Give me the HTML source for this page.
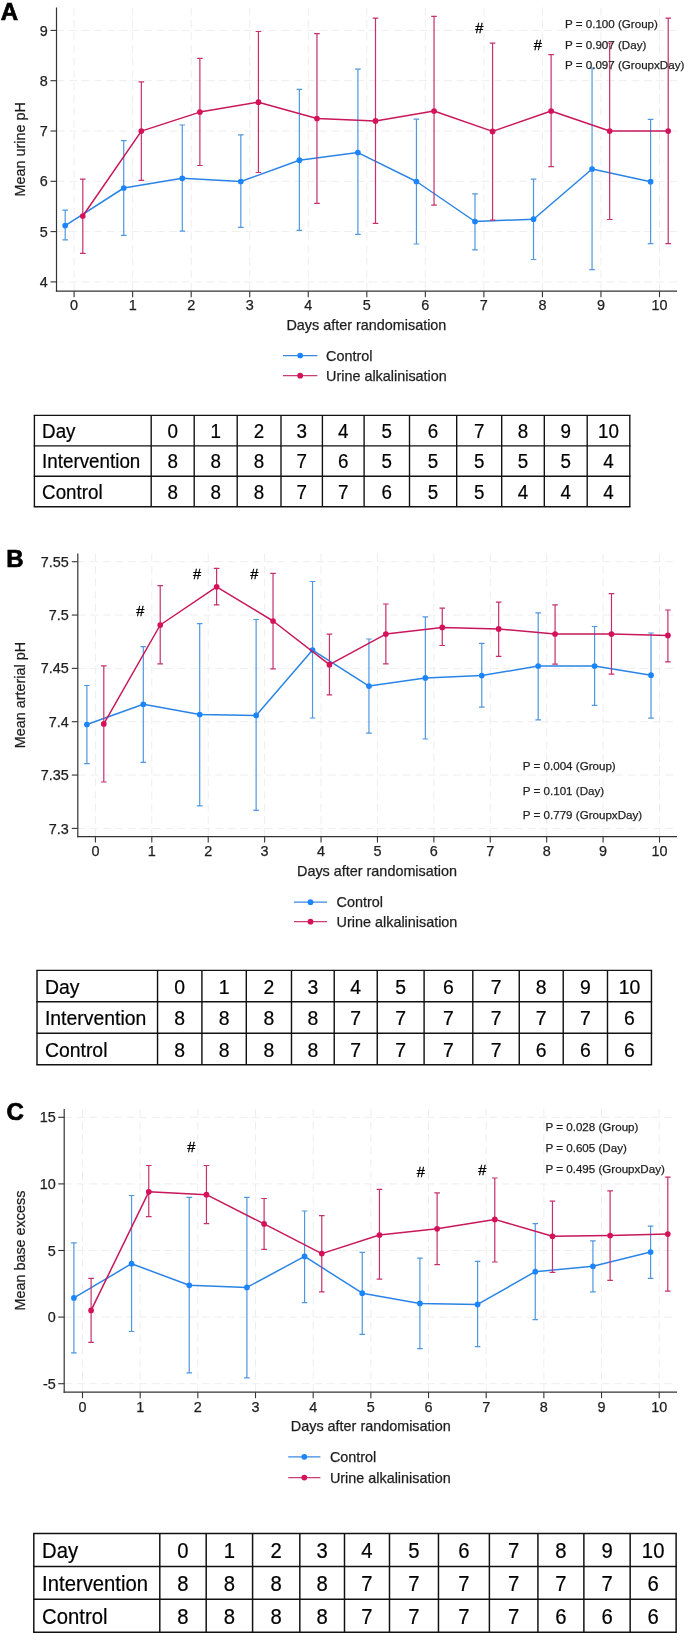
<!DOCTYPE html>
<html><head><meta charset="utf-8"><style>
html,body{margin:0;padding:0;background:#fff;}
body{width:685px;height:1633px;overflow:hidden;}
svg{display:block;font-family:"Liberation Sans", sans-serif;will-change:transform;}
svg text{fill:#1e1e1e;stroke:#1e1e1e;stroke-width:0.25px;}
svg text.tb{fill:#000;stroke:#000;stroke-width:0.2px;}
</style></head><body>
<svg width="685" height="1633" viewBox="0 0 685 1633">
<rect width="685" height="1633" fill="#fff"/>
<line x1="56.5" y1="281.9" x2="677" y2="281.9" stroke="#eeeeee" stroke-width="1" stroke-dasharray="8 4.5"/>
<line x1="56.5" y1="231.6" x2="677" y2="231.6" stroke="#eeeeee" stroke-width="1" stroke-dasharray="8 4.5"/>
<line x1="56.5" y1="181.3" x2="677" y2="181.3" stroke="#eeeeee" stroke-width="1" stroke-dasharray="8 4.5"/>
<line x1="56.5" y1="131" x2="677" y2="131" stroke="#eeeeee" stroke-width="1" stroke-dasharray="8 4.5"/>
<line x1="56.5" y1="80.7" x2="677" y2="80.7" stroke="#eeeeee" stroke-width="1" stroke-dasharray="8 4.5"/>
<line x1="56.5" y1="30.4" x2="677" y2="30.4" stroke="#eeeeee" stroke-width="1" stroke-dasharray="8 4.5"/>
<line x1="74.1" y1="7.4" x2="74.1" y2="291.2" stroke="#eeeeee" stroke-width="1" stroke-dasharray="8 4.5"/>
<line x1="132.64" y1="7.4" x2="132.64" y2="291.2" stroke="#eeeeee" stroke-width="1" stroke-dasharray="8 4.5"/>
<line x1="191.18" y1="7.4" x2="191.18" y2="291.2" stroke="#eeeeee" stroke-width="1" stroke-dasharray="8 4.5"/>
<line x1="249.72" y1="7.4" x2="249.72" y2="291.2" stroke="#eeeeee" stroke-width="1" stroke-dasharray="8 4.5"/>
<line x1="308.26" y1="7.4" x2="308.26" y2="291.2" stroke="#eeeeee" stroke-width="1" stroke-dasharray="8 4.5"/>
<line x1="366.8" y1="7.4" x2="366.8" y2="291.2" stroke="#eeeeee" stroke-width="1" stroke-dasharray="8 4.5"/>
<line x1="425.34" y1="7.4" x2="425.34" y2="291.2" stroke="#eeeeee" stroke-width="1" stroke-dasharray="8 4.5"/>
<line x1="483.88" y1="7.4" x2="483.88" y2="291.2" stroke="#eeeeee" stroke-width="1" stroke-dasharray="8 4.5"/>
<line x1="542.42" y1="7.4" x2="542.42" y2="291.2" stroke="#eeeeee" stroke-width="1" stroke-dasharray="8 4.5"/>
<line x1="600.96" y1="7.4" x2="600.96" y2="291.2" stroke="#eeeeee" stroke-width="1" stroke-dasharray="8 4.5"/>
<line x1="659.5" y1="7.4" x2="659.5" y2="291.2" stroke="#eeeeee" stroke-width="1" stroke-dasharray="8 4.5"/>
<line x1="56.5" y1="7.4" x2="56.5" y2="291.8" stroke="#333333" stroke-width="1.2"/>
<line x1="55.9" y1="291.2" x2="677" y2="291.2" stroke="#333333" stroke-width="1.2"/>
<line x1="50.5" y1="281.9" x2="56.5" y2="281.9" stroke="#333333" stroke-width="1.1"/>
<text x="47.8" y="287" text-anchor="end" font-size="14.4">4</text>
<line x1="50.5" y1="231.6" x2="56.5" y2="231.6" stroke="#333333" stroke-width="1.1"/>
<text x="47.8" y="236.7" text-anchor="end" font-size="14.4">5</text>
<line x1="50.5" y1="181.3" x2="56.5" y2="181.3" stroke="#333333" stroke-width="1.1"/>
<text x="47.8" y="186.4" text-anchor="end" font-size="14.4">6</text>
<line x1="50.5" y1="131" x2="56.5" y2="131" stroke="#333333" stroke-width="1.1"/>
<text x="47.8" y="136.1" text-anchor="end" font-size="14.4">7</text>
<line x1="50.5" y1="80.7" x2="56.5" y2="80.7" stroke="#333333" stroke-width="1.1"/>
<text x="47.8" y="85.8" text-anchor="end" font-size="14.4">8</text>
<line x1="50.5" y1="30.4" x2="56.5" y2="30.4" stroke="#333333" stroke-width="1.1"/>
<text x="47.8" y="35.5" text-anchor="end" font-size="14.4">9</text>
<line x1="74.1" y1="291.2" x2="74.1" y2="297.2" stroke="#333333" stroke-width="1.1"/>
<text x="74.1" y="309.6" text-anchor="middle" font-size="14.4">0</text>
<line x1="132.64" y1="291.2" x2="132.64" y2="297.2" stroke="#333333" stroke-width="1.1"/>
<text x="132.64" y="309.6" text-anchor="middle" font-size="14.4">1</text>
<line x1="191.18" y1="291.2" x2="191.18" y2="297.2" stroke="#333333" stroke-width="1.1"/>
<text x="191.18" y="309.6" text-anchor="middle" font-size="14.4">2</text>
<line x1="249.72" y1="291.2" x2="249.72" y2="297.2" stroke="#333333" stroke-width="1.1"/>
<text x="249.72" y="309.6" text-anchor="middle" font-size="14.4">3</text>
<line x1="308.26" y1="291.2" x2="308.26" y2="297.2" stroke="#333333" stroke-width="1.1"/>
<text x="308.26" y="309.6" text-anchor="middle" font-size="14.4">4</text>
<line x1="366.8" y1="291.2" x2="366.8" y2="297.2" stroke="#333333" stroke-width="1.1"/>
<text x="366.8" y="309.6" text-anchor="middle" font-size="14.4">5</text>
<line x1="425.34" y1="291.2" x2="425.34" y2="297.2" stroke="#333333" stroke-width="1.1"/>
<text x="425.34" y="309.6" text-anchor="middle" font-size="14.4">6</text>
<line x1="483.88" y1="291.2" x2="483.88" y2="297.2" stroke="#333333" stroke-width="1.1"/>
<text x="483.88" y="309.6" text-anchor="middle" font-size="14.4">7</text>
<line x1="542.42" y1="291.2" x2="542.42" y2="297.2" stroke="#333333" stroke-width="1.1"/>
<text x="542.42" y="309.6" text-anchor="middle" font-size="14.4">8</text>
<line x1="600.96" y1="291.2" x2="600.96" y2="297.2" stroke="#333333" stroke-width="1.1"/>
<text x="600.96" y="309.6" text-anchor="middle" font-size="14.4">9</text>
<line x1="659.5" y1="291.2" x2="659.5" y2="297.2" stroke="#333333" stroke-width="1.1"/>
<text x="659.5" y="309.6" text-anchor="middle" font-size="14.4">10</text>
<text x="366.4" y="330.3" text-anchor="middle" font-size="14.4">Days after randomisation</text>
<text transform="translate(24.6,149.3) rotate(-90)" text-anchor="middle" font-size="14.4">Mean urine pH</text>
<text x="0.7" y="20.3" font-size="24" font-weight="bold" style="fill:#000;stroke:#000;stroke-width:0.7px">A</text>
<path d="M65.2 210.1V239.9M62.4 210.1H68M62.4 239.9H68" stroke="#4f97e0" stroke-width="1.2" fill="none"/>
<path d="M123.74 140.7V235.3M120.94 140.7H126.54M120.94 235.3H126.54" stroke="#4f97e0" stroke-width="1.2" fill="none"/>
<path d="M182.28 125V231.2M179.48 125H185.08M179.48 231.2H185.08" stroke="#4f97e0" stroke-width="1.2" fill="none"/>
<path d="M240.82 134.9V227.4M238.02 134.9H243.62M238.02 227.4H243.62" stroke="#4f97e0" stroke-width="1.2" fill="none"/>
<path d="M299.36 89.3V230.3M296.56 89.3H302.16M296.56 230.3H302.16" stroke="#4f97e0" stroke-width="1.2" fill="none"/>
<path d="M357.9 69.2V234.4M355.1 69.2H360.7M355.1 234.4H360.7" stroke="#4f97e0" stroke-width="1.2" fill="none"/>
<path d="M416.44 119.1V244M413.64 119.1H419.24M413.64 244H419.24" stroke="#4f97e0" stroke-width="1.2" fill="none"/>
<path d="M474.98 193.8V249.9M472.18 193.8H477.78M472.18 249.9H477.78" stroke="#4f97e0" stroke-width="1.2" fill="none"/>
<path d="M533.52 179.2V259.5M530.72 179.2H536.32M530.72 259.5H536.32" stroke="#4f97e0" stroke-width="1.2" fill="none"/>
<path d="M592.06 68V269.7M589.26 68H594.86M589.26 269.7H594.86" stroke="#4f97e0" stroke-width="1.2" fill="none"/>
<path d="M650.6 119.4V243.7M647.8 119.4H653.4M647.8 243.7H653.4" stroke="#4f97e0" stroke-width="1.2" fill="none"/>
<polyline points="65.2,225.6 123.74,188 182.28,178.3 240.82,181.5 299.36,160.2 357.9,152.6 416.44,181.5 474.98,221.5 533.52,219.2 592.06,169 650.6,181.7" stroke="#2a84e6" stroke-width="1.5" fill="none" stroke-linejoin="round"/>
<circle cx="65.2" cy="225.6" r="2.85" fill="#1A85FF"/>
<circle cx="123.74" cy="188" r="2.85" fill="#1A85FF"/>
<circle cx="182.28" cy="178.3" r="2.85" fill="#1A85FF"/>
<circle cx="240.82" cy="181.5" r="2.85" fill="#1A85FF"/>
<circle cx="299.36" cy="160.2" r="2.85" fill="#1A85FF"/>
<circle cx="357.9" cy="152.6" r="2.85" fill="#1A85FF"/>
<circle cx="416.44" cy="181.5" r="2.85" fill="#1A85FF"/>
<circle cx="474.98" cy="221.5" r="2.85" fill="#1A85FF"/>
<circle cx="533.52" cy="219.2" r="2.85" fill="#1A85FF"/>
<circle cx="592.06" cy="169" r="2.85" fill="#1A85FF"/>
<circle cx="650.6" cy="181.7" r="2.85" fill="#1A85FF"/>
<path d="M82.8 179.2V253.4M80 179.2H85.6M80 253.4H85.6" stroke="#c6306c" stroke-width="1.2" fill="none"/>
<path d="M141.34 81.8V180.4M138.54 81.8H144.14M138.54 180.4H144.14" stroke="#c6306c" stroke-width="1.2" fill="none"/>
<path d="M199.88 58.4V165.5M197.08 58.4H202.68M197.08 165.5H202.68" stroke="#c6306c" stroke-width="1.2" fill="none"/>
<path d="M258.42 31.5V172.5M255.62 31.5H261.22M255.62 172.5H261.22" stroke="#c6306c" stroke-width="1.2" fill="none"/>
<path d="M316.96 33.6V203.4M314.16 33.6H319.76M314.16 203.4H319.76" stroke="#c6306c" stroke-width="1.2" fill="none"/>
<path d="M375.5 18.1V223.3M372.7 18.1H378.3M372.7 223.3H378.3" stroke="#c6306c" stroke-width="1.2" fill="none"/>
<path d="M434.04 16.4V205.2M431.24 16.4H436.84M431.24 205.2H436.84" stroke="#c6306c" stroke-width="1.2" fill="none"/>
<path d="M492.58 43.2V220.1M489.78 43.2H495.38M489.78 220.1H495.38" stroke="#c6306c" stroke-width="1.2" fill="none"/>
<path d="M551.12 54.6V166.6M548.32 54.6H553.92M548.32 166.6H553.92" stroke="#c6306c" stroke-width="1.2" fill="none"/>
<path d="M609.66 43V219.5M606.86 43H612.46M606.86 219.5H612.46" stroke="#c6306c" stroke-width="1.2" fill="none"/>
<path d="M668.2 18.2V243.7M665.4 18.2H671M665.4 243.7H671" stroke="#c6306c" stroke-width="1.2" fill="none"/>
<polyline points="82.8,216 141.34,131.1 199.88,112.1 258.42,102.2 316.96,118.5 375.5,120.9 434.04,111 492.58,131.4 551.12,111 609.66,131 668.2,131" stroke="#c8175a" stroke-width="1.5" fill="none" stroke-linejoin="round"/>
<circle cx="82.8" cy="216" r="2.85" fill="#D41159"/>
<circle cx="141.34" cy="131.1" r="2.85" fill="#D41159"/>
<circle cx="199.88" cy="112.1" r="2.85" fill="#D41159"/>
<circle cx="258.42" cy="102.2" r="2.85" fill="#D41159"/>
<circle cx="316.96" cy="118.5" r="2.85" fill="#D41159"/>
<circle cx="375.5" cy="120.9" r="2.85" fill="#D41159"/>
<circle cx="434.04" cy="111" r="2.85" fill="#D41159"/>
<circle cx="492.58" cy="131.4" r="2.85" fill="#D41159"/>
<circle cx="551.12" cy="111" r="2.85" fill="#D41159"/>
<circle cx="609.66" cy="131" r="2.85" fill="#D41159"/>
<circle cx="668.2" cy="131" r="2.85" fill="#D41159"/>
<text x="479.3" y="33.2" text-anchor="middle" font-size="14.6" style="fill:#000;stroke:#000;stroke-width:0.3px">#</text>
<text x="537.9" y="49.9" text-anchor="middle" font-size="14.6" style="fill:#000;stroke:#000;stroke-width:0.3px">#</text>
<text x="565" y="28" font-size="11.6">P = 0.100 (Group)</text>
<text x="565" y="49.4" font-size="11.6">P = 0.907 (Day)</text>
<text x="565" y="69" font-size="11.6">P = 0.097 (GroupxDay)</text>
<line x1="283" y1="355.5" x2="317.3" y2="355.5" stroke="#3a88e0" stroke-width="1.25"/>
<circle cx="300.2" cy="355.5" r="2.85" fill="#1A85FF"/>
<text x="326" y="360.6" font-size="14.4">Control</text>
<line x1="283" y1="375.7" x2="317.3" y2="375.7" stroke="#cc3c74" stroke-width="1.25"/>
<circle cx="300.2" cy="375.7" r="2.85" fill="#D41159"/>
<text x="326" y="380.8" font-size="14.4">Urine alkalinisation</text>
<line x1="77.8" y1="561.7" x2="677" y2="561.7" stroke="#eeeeee" stroke-width="1" stroke-dasharray="8 4.5"/>
<line x1="77.8" y1="615.04" x2="677" y2="615.04" stroke="#eeeeee" stroke-width="1" stroke-dasharray="8 4.5"/>
<line x1="77.8" y1="668.38" x2="677" y2="668.38" stroke="#eeeeee" stroke-width="1" stroke-dasharray="8 4.5"/>
<line x1="77.8" y1="721.72" x2="677" y2="721.72" stroke="#eeeeee" stroke-width="1" stroke-dasharray="8 4.5"/>
<line x1="77.8" y1="775.06" x2="677" y2="775.06" stroke="#eeeeee" stroke-width="1" stroke-dasharray="8 4.5"/>
<line x1="77.8" y1="828.4" x2="677" y2="828.4" stroke="#eeeeee" stroke-width="1" stroke-dasharray="8 4.5"/>
<line x1="95.4" y1="553.6" x2="95.4" y2="836.6" stroke="#eeeeee" stroke-width="1" stroke-dasharray="8 4.5"/>
<line x1="151.81" y1="553.6" x2="151.81" y2="836.6" stroke="#eeeeee" stroke-width="1" stroke-dasharray="8 4.5"/>
<line x1="208.22" y1="553.6" x2="208.22" y2="836.6" stroke="#eeeeee" stroke-width="1" stroke-dasharray="8 4.5"/>
<line x1="264.63" y1="553.6" x2="264.63" y2="836.6" stroke="#eeeeee" stroke-width="1" stroke-dasharray="8 4.5"/>
<line x1="321.04" y1="553.6" x2="321.04" y2="836.6" stroke="#eeeeee" stroke-width="1" stroke-dasharray="8 4.5"/>
<line x1="377.45" y1="553.6" x2="377.45" y2="836.6" stroke="#eeeeee" stroke-width="1" stroke-dasharray="8 4.5"/>
<line x1="433.86" y1="553.6" x2="433.86" y2="836.6" stroke="#eeeeee" stroke-width="1" stroke-dasharray="8 4.5"/>
<line x1="490.27" y1="553.6" x2="490.27" y2="836.6" stroke="#eeeeee" stroke-width="1" stroke-dasharray="8 4.5"/>
<line x1="546.68" y1="553.6" x2="546.68" y2="836.6" stroke="#eeeeee" stroke-width="1" stroke-dasharray="8 4.5"/>
<line x1="603.09" y1="553.6" x2="603.09" y2="836.6" stroke="#eeeeee" stroke-width="1" stroke-dasharray="8 4.5"/>
<line x1="659.5" y1="553.6" x2="659.5" y2="836.6" stroke="#eeeeee" stroke-width="1" stroke-dasharray="8 4.5"/>
<line x1="77.8" y1="553.6" x2="77.8" y2="837.2" stroke="#333333" stroke-width="1.2"/>
<line x1="77.2" y1="836.6" x2="677" y2="836.6" stroke="#333333" stroke-width="1.2"/>
<line x1="71.8" y1="561.7" x2="77.8" y2="561.7" stroke="#333333" stroke-width="1.1"/>
<text x="68.8" y="566.8" text-anchor="end" font-size="14.4">7.55</text>
<line x1="71.8" y1="615.04" x2="77.8" y2="615.04" stroke="#333333" stroke-width="1.1"/>
<text x="68.8" y="620.14" text-anchor="end" font-size="14.4">7.5</text>
<line x1="71.8" y1="668.38" x2="77.8" y2="668.38" stroke="#333333" stroke-width="1.1"/>
<text x="68.8" y="673.48" text-anchor="end" font-size="14.4">7.45</text>
<line x1="71.8" y1="721.72" x2="77.8" y2="721.72" stroke="#333333" stroke-width="1.1"/>
<text x="68.8" y="726.82" text-anchor="end" font-size="14.4">7.4</text>
<line x1="71.8" y1="775.06" x2="77.8" y2="775.06" stroke="#333333" stroke-width="1.1"/>
<text x="68.8" y="780.16" text-anchor="end" font-size="14.4">7.35</text>
<line x1="71.8" y1="828.4" x2="77.8" y2="828.4" stroke="#333333" stroke-width="1.1"/>
<text x="68.8" y="833.5" text-anchor="end" font-size="14.4">7.3</text>
<line x1="95.4" y1="836.6" x2="95.4" y2="842.6" stroke="#333333" stroke-width="1.1"/>
<text x="95.4" y="855.9" text-anchor="middle" font-size="14.4">0</text>
<line x1="151.81" y1="836.6" x2="151.81" y2="842.6" stroke="#333333" stroke-width="1.1"/>
<text x="151.81" y="855.9" text-anchor="middle" font-size="14.4">1</text>
<line x1="208.22" y1="836.6" x2="208.22" y2="842.6" stroke="#333333" stroke-width="1.1"/>
<text x="208.22" y="855.9" text-anchor="middle" font-size="14.4">2</text>
<line x1="264.63" y1="836.6" x2="264.63" y2="842.6" stroke="#333333" stroke-width="1.1"/>
<text x="264.63" y="855.9" text-anchor="middle" font-size="14.4">3</text>
<line x1="321.04" y1="836.6" x2="321.04" y2="842.6" stroke="#333333" stroke-width="1.1"/>
<text x="321.04" y="855.9" text-anchor="middle" font-size="14.4">4</text>
<line x1="377.45" y1="836.6" x2="377.45" y2="842.6" stroke="#333333" stroke-width="1.1"/>
<text x="377.45" y="855.9" text-anchor="middle" font-size="14.4">5</text>
<line x1="433.86" y1="836.6" x2="433.86" y2="842.6" stroke="#333333" stroke-width="1.1"/>
<text x="433.86" y="855.9" text-anchor="middle" font-size="14.4">6</text>
<line x1="490.27" y1="836.6" x2="490.27" y2="842.6" stroke="#333333" stroke-width="1.1"/>
<text x="490.27" y="855.9" text-anchor="middle" font-size="14.4">7</text>
<line x1="546.68" y1="836.6" x2="546.68" y2="842.6" stroke="#333333" stroke-width="1.1"/>
<text x="546.68" y="855.9" text-anchor="middle" font-size="14.4">8</text>
<line x1="603.09" y1="836.6" x2="603.09" y2="842.6" stroke="#333333" stroke-width="1.1"/>
<text x="603.09" y="855.9" text-anchor="middle" font-size="14.4">9</text>
<line x1="659.5" y1="836.6" x2="659.5" y2="842.6" stroke="#333333" stroke-width="1.1"/>
<text x="659.5" y="855.9" text-anchor="middle" font-size="14.4">10</text>
<text x="377" y="875.9" text-anchor="middle" font-size="14.4">Days after randomisation</text>
<text transform="translate(25.2,695.1) rotate(-90)" text-anchor="middle" font-size="14.4">Mean arterial pH</text>
<text x="6.3" y="566.5" font-size="24" font-weight="bold" style="fill:#000;stroke:#000;stroke-width:0.7px">B</text>
<path d="M86.9 685.5V763.6M84.1 685.5H89.7M84.1 763.6H89.7" stroke="#4f97e0" stroke-width="1.2" fill="none"/>
<path d="M143.31 646.6V762.4M140.51 646.6H146.11M140.51 762.4H146.11" stroke="#4f97e0" stroke-width="1.2" fill="none"/>
<path d="M199.72 623.6V805.9M196.92 623.6H202.52M196.92 805.9H202.52" stroke="#4f97e0" stroke-width="1.2" fill="none"/>
<path d="M256.13 619.5V810.3M253.33 619.5H258.93M253.33 810.3H258.93" stroke="#4f97e0" stroke-width="1.2" fill="none"/>
<path d="M312.54 581.5V718M309.74 581.5H315.34M309.74 718H315.34" stroke="#4f97e0" stroke-width="1.2" fill="none"/>
<path d="M368.95 639V733.2M366.15 639H371.75M366.15 733.2H371.75" stroke="#4f97e0" stroke-width="1.2" fill="none"/>
<path d="M425.36 616.9V739M422.56 616.9H428.16M422.56 739H428.16" stroke="#4f97e0" stroke-width="1.2" fill="none"/>
<path d="M481.77 643.3V707.1M478.97 643.3H484.57M478.97 707.1H484.57" stroke="#4f97e0" stroke-width="1.2" fill="none"/>
<path d="M538.18 612.8V719.8M535.38 612.8H540.98M535.38 719.8H540.98" stroke="#4f97e0" stroke-width="1.2" fill="none"/>
<path d="M594.59 626.5V705.4M591.79 626.5H597.39M591.79 705.4H597.39" stroke="#4f97e0" stroke-width="1.2" fill="none"/>
<path d="M651 633V718.1M648.2 633H653.8M648.2 718.1H653.8" stroke="#4f97e0" stroke-width="1.2" fill="none"/>
<polyline points="86.9,724.5 143.31,704.3 199.72,714.5 256.13,715.4 312.54,650.1 368.95,686.1 425.36,677.9 481.77,675.6 538.18,666 594.59,666 651,675.2" stroke="#2a84e6" stroke-width="1.5" fill="none" stroke-linejoin="round"/>
<circle cx="86.9" cy="724.5" r="2.85" fill="#1A85FF"/>
<circle cx="143.31" cy="704.3" r="2.85" fill="#1A85FF"/>
<circle cx="199.72" cy="714.5" r="2.85" fill="#1A85FF"/>
<circle cx="256.13" cy="715.4" r="2.85" fill="#1A85FF"/>
<circle cx="312.54" cy="650.1" r="2.85" fill="#1A85FF"/>
<circle cx="368.95" cy="686.1" r="2.85" fill="#1A85FF"/>
<circle cx="425.36" cy="677.9" r="2.85" fill="#1A85FF"/>
<circle cx="481.77" cy="675.6" r="2.85" fill="#1A85FF"/>
<circle cx="538.18" cy="666" r="2.85" fill="#1A85FF"/>
<circle cx="594.59" cy="666" r="2.85" fill="#1A85FF"/>
<circle cx="651" cy="675.2" r="2.85" fill="#1A85FF"/>
<path d="M103.8 665.9V782M101 665.9H106.6M101 782H106.6" stroke="#c6306c" stroke-width="1.2" fill="none"/>
<path d="M160.21 585.6V663.9M157.41 585.6H163.01M157.41 663.9H163.01" stroke="#c6306c" stroke-width="1.2" fill="none"/>
<path d="M216.62 568.4V604.9M213.82 568.4H219.42M213.82 604.9H219.42" stroke="#c6306c" stroke-width="1.2" fill="none"/>
<path d="M273.03 573.4V668.8M270.23 573.4H275.83M270.23 668.8H275.83" stroke="#c6306c" stroke-width="1.2" fill="none"/>
<path d="M329.44 634.1V694.8M326.64 634.1H332.24M326.64 694.8H332.24" stroke="#c6306c" stroke-width="1.2" fill="none"/>
<path d="M385.85 604V663.9M383.05 604H388.65M383.05 663.9H388.65" stroke="#c6306c" stroke-width="1.2" fill="none"/>
<path d="M442.26 608.1V645.5M439.46 608.1H445.06M439.46 645.5H445.06" stroke="#c6306c" stroke-width="1.2" fill="none"/>
<path d="M498.67 602.1V656.3M495.87 602.1H501.47M495.87 656.3H501.47" stroke="#c6306c" stroke-width="1.2" fill="none"/>
<path d="M555.08 604.9V664.2M552.28 604.9H557.88M552.28 664.2H557.88" stroke="#c6306c" stroke-width="1.2" fill="none"/>
<path d="M611.49 593.6V674.2M608.69 593.6H614.29M608.69 674.2H614.29" stroke="#c6306c" stroke-width="1.2" fill="none"/>
<path d="M667.9 610V661.8M665.1 610H670.7M665.1 661.8H670.7" stroke="#c6306c" stroke-width="1.2" fill="none"/>
<polyline points="103.8,723.9 160.21,625 216.62,586.8 273.03,621 329.44,664.7 385.85,634.1 442.26,627.4 498.67,628.9 555.08,634 611.49,634 667.9,635.4" stroke="#c8175a" stroke-width="1.5" fill="none" stroke-linejoin="round"/>
<circle cx="103.8" cy="723.9" r="2.85" fill="#D41159"/>
<circle cx="160.21" cy="625" r="2.85" fill="#D41159"/>
<circle cx="216.62" cy="586.8" r="2.85" fill="#D41159"/>
<circle cx="273.03" cy="621" r="2.85" fill="#D41159"/>
<circle cx="329.44" cy="664.7" r="2.85" fill="#D41159"/>
<circle cx="385.85" cy="634.1" r="2.85" fill="#D41159"/>
<circle cx="442.26" cy="627.4" r="2.85" fill="#D41159"/>
<circle cx="498.67" cy="628.9" r="2.85" fill="#D41159"/>
<circle cx="555.08" cy="634" r="2.85" fill="#D41159"/>
<circle cx="611.49" cy="634" r="2.85" fill="#D41159"/>
<circle cx="667.9" cy="635.4" r="2.85" fill="#D41159"/>
<text x="140.4" y="615.9" text-anchor="middle" font-size="14.6" style="fill:#000;stroke:#000;stroke-width:0.3px">#</text>
<text x="197" y="579.2" text-anchor="middle" font-size="14.6" style="fill:#000;stroke:#000;stroke-width:0.3px">#</text>
<text x="254.3" y="579.2" text-anchor="middle" font-size="14.6" style="fill:#000;stroke:#000;stroke-width:0.3px">#</text>
<text x="522.8" y="769.9" font-size="11.6">P = 0.004 (Group)</text>
<text x="522.8" y="794.8" font-size="11.6">P = 0.101 (Day)</text>
<text x="522.8" y="819.3" font-size="11.6">P = 0.779 (GroupxDay)</text>
<line x1="294" y1="902.2" x2="327" y2="902.2" stroke="#3a88e0" stroke-width="1.25"/>
<circle cx="310.5" cy="902.2" r="2.85" fill="#1A85FF"/>
<text x="336.6" y="907.3" font-size="14.4">Control</text>
<line x1="294" y1="921.7" x2="327" y2="921.7" stroke="#cc3c74" stroke-width="1.25"/>
<circle cx="310.5" cy="921.7" r="2.85" fill="#D41159"/>
<text x="336.6" y="926.8" font-size="14.4">Urine alkalinisation</text>
<line x1="64.2" y1="1383.7" x2="677" y2="1383.7" stroke="#eeeeee" stroke-width="1" stroke-dasharray="8 4.5"/>
<line x1="64.2" y1="1317.1" x2="677" y2="1317.1" stroke="#eeeeee" stroke-width="1" stroke-dasharray="8 4.5"/>
<line x1="64.2" y1="1250.5" x2="677" y2="1250.5" stroke="#eeeeee" stroke-width="1" stroke-dasharray="8 4.5"/>
<line x1="64.2" y1="1183.9" x2="677" y2="1183.9" stroke="#eeeeee" stroke-width="1" stroke-dasharray="8 4.5"/>
<line x1="64.2" y1="1117.3" x2="677" y2="1117.3" stroke="#eeeeee" stroke-width="1" stroke-dasharray="8 4.5"/>
<line x1="82.5" y1="1109" x2="82.5" y2="1392.2" stroke="#eeeeee" stroke-width="1" stroke-dasharray="8 4.5"/>
<line x1="140.17" y1="1109" x2="140.17" y2="1392.2" stroke="#eeeeee" stroke-width="1" stroke-dasharray="8 4.5"/>
<line x1="197.84" y1="1109" x2="197.84" y2="1392.2" stroke="#eeeeee" stroke-width="1" stroke-dasharray="8 4.5"/>
<line x1="255.51" y1="1109" x2="255.51" y2="1392.2" stroke="#eeeeee" stroke-width="1" stroke-dasharray="8 4.5"/>
<line x1="313.18" y1="1109" x2="313.18" y2="1392.2" stroke="#eeeeee" stroke-width="1" stroke-dasharray="8 4.5"/>
<line x1="370.85" y1="1109" x2="370.85" y2="1392.2" stroke="#eeeeee" stroke-width="1" stroke-dasharray="8 4.5"/>
<line x1="428.52" y1="1109" x2="428.52" y2="1392.2" stroke="#eeeeee" stroke-width="1" stroke-dasharray="8 4.5"/>
<line x1="486.19" y1="1109" x2="486.19" y2="1392.2" stroke="#eeeeee" stroke-width="1" stroke-dasharray="8 4.5"/>
<line x1="543.86" y1="1109" x2="543.86" y2="1392.2" stroke="#eeeeee" stroke-width="1" stroke-dasharray="8 4.5"/>
<line x1="601.53" y1="1109" x2="601.53" y2="1392.2" stroke="#eeeeee" stroke-width="1" stroke-dasharray="8 4.5"/>
<line x1="659.2" y1="1109" x2="659.2" y2="1392.2" stroke="#eeeeee" stroke-width="1" stroke-dasharray="8 4.5"/>
<line x1="64.2" y1="1109" x2="64.2" y2="1392.8" stroke="#333333" stroke-width="1.2"/>
<line x1="63.6" y1="1392.2" x2="677" y2="1392.2" stroke="#333333" stroke-width="1.2"/>
<line x1="58.2" y1="1383.7" x2="64.2" y2="1383.7" stroke="#333333" stroke-width="1.1"/>
<text x="55.8" y="1388.8" text-anchor="end" font-size="14.4">-5</text>
<line x1="58.2" y1="1317.1" x2="64.2" y2="1317.1" stroke="#333333" stroke-width="1.1"/>
<text x="55.8" y="1322.2" text-anchor="end" font-size="14.4">0</text>
<line x1="58.2" y1="1250.5" x2="64.2" y2="1250.5" stroke="#333333" stroke-width="1.1"/>
<text x="55.8" y="1255.6" text-anchor="end" font-size="14.4">5</text>
<line x1="58.2" y1="1183.9" x2="64.2" y2="1183.9" stroke="#333333" stroke-width="1.1"/>
<text x="55.8" y="1189" text-anchor="end" font-size="14.4">10</text>
<line x1="58.2" y1="1117.3" x2="64.2" y2="1117.3" stroke="#333333" stroke-width="1.1"/>
<text x="55.8" y="1122.4" text-anchor="end" font-size="14.4">15</text>
<line x1="82.5" y1="1392.2" x2="82.5" y2="1398.2" stroke="#333333" stroke-width="1.1"/>
<text x="82.5" y="1411.6" text-anchor="middle" font-size="14.4">0</text>
<line x1="140.17" y1="1392.2" x2="140.17" y2="1398.2" stroke="#333333" stroke-width="1.1"/>
<text x="140.17" y="1411.6" text-anchor="middle" font-size="14.4">1</text>
<line x1="197.84" y1="1392.2" x2="197.84" y2="1398.2" stroke="#333333" stroke-width="1.1"/>
<text x="197.84" y="1411.6" text-anchor="middle" font-size="14.4">2</text>
<line x1="255.51" y1="1392.2" x2="255.51" y2="1398.2" stroke="#333333" stroke-width="1.1"/>
<text x="255.51" y="1411.6" text-anchor="middle" font-size="14.4">3</text>
<line x1="313.18" y1="1392.2" x2="313.18" y2="1398.2" stroke="#333333" stroke-width="1.1"/>
<text x="313.18" y="1411.6" text-anchor="middle" font-size="14.4">4</text>
<line x1="370.85" y1="1392.2" x2="370.85" y2="1398.2" stroke="#333333" stroke-width="1.1"/>
<text x="370.85" y="1411.6" text-anchor="middle" font-size="14.4">5</text>
<line x1="428.52" y1="1392.2" x2="428.52" y2="1398.2" stroke="#333333" stroke-width="1.1"/>
<text x="428.52" y="1411.6" text-anchor="middle" font-size="14.4">6</text>
<line x1="486.19" y1="1392.2" x2="486.19" y2="1398.2" stroke="#333333" stroke-width="1.1"/>
<text x="486.19" y="1411.6" text-anchor="middle" font-size="14.4">7</text>
<line x1="543.86" y1="1392.2" x2="543.86" y2="1398.2" stroke="#333333" stroke-width="1.1"/>
<text x="543.86" y="1411.6" text-anchor="middle" font-size="14.4">8</text>
<line x1="601.53" y1="1392.2" x2="601.53" y2="1398.2" stroke="#333333" stroke-width="1.1"/>
<text x="601.53" y="1411.6" text-anchor="middle" font-size="14.4">9</text>
<line x1="659.2" y1="1392.2" x2="659.2" y2="1398.2" stroke="#333333" stroke-width="1.1"/>
<text x="659.2" y="1411.6" text-anchor="middle" font-size="14.4">10</text>
<text x="370.8" y="1431.4" text-anchor="middle" font-size="14.4">Days after randomisation</text>
<text transform="translate(25.1,1250.6) rotate(-90)" text-anchor="middle" font-size="14.4">Mean base excess</text>
<text x="6.5" y="1120.4" font-size="24" font-weight="bold" style="fill:#000;stroke:#000;stroke-width:0.7px">C</text>
<path d="M73.9 1242.8V1352.8M71.1 1242.8H76.7M71.1 1352.8H76.7" stroke="#4f97e0" stroke-width="1.2" fill="none"/>
<path d="M131.57 1195.5V1331.5M128.77 1195.5H134.37M128.77 1331.5H134.37" stroke="#4f97e0" stroke-width="1.2" fill="none"/>
<path d="M189.24 1197.3V1372.9M186.44 1197.3H192.04M186.44 1372.9H192.04" stroke="#4f97e0" stroke-width="1.2" fill="none"/>
<path d="M246.91 1197.3V1377.9M244.11 1197.3H249.71M244.11 1377.9H249.71" stroke="#4f97e0" stroke-width="1.2" fill="none"/>
<path d="M304.58 1211V1302.6M301.78 1211H307.38M301.78 1302.6H307.38" stroke="#4f97e0" stroke-width="1.2" fill="none"/>
<path d="M362.25 1252.3V1334.4M359.45 1252.3H365.05M359.45 1334.4H365.05" stroke="#4f97e0" stroke-width="1.2" fill="none"/>
<path d="M419.92 1258.2V1348.7M417.12 1258.2H422.72M417.12 1348.7H422.72" stroke="#4f97e0" stroke-width="1.2" fill="none"/>
<path d="M477.59 1261.3V1346.6M474.79 1261.3H480.39M474.79 1346.6H480.39" stroke="#4f97e0" stroke-width="1.2" fill="none"/>
<path d="M535.26 1223.7V1319.7M532.46 1223.7H538.06M532.46 1319.7H538.06" stroke="#4f97e0" stroke-width="1.2" fill="none"/>
<path d="M592.93 1240.9V1291.8M590.13 1240.9H595.73M590.13 1291.8H595.73" stroke="#4f97e0" stroke-width="1.2" fill="none"/>
<path d="M650.6 1226.2V1278.3M647.8 1226.2H653.4M647.8 1278.3H653.4" stroke="#4f97e0" stroke-width="1.2" fill="none"/>
<polyline points="73.9,1297.9 131.57,1263.7 189.24,1285.3 246.91,1287.4 304.58,1256.4 362.25,1293.2 419.92,1303.4 477.59,1304.4 535.26,1271.7 592.93,1266.3 650.6,1252" stroke="#2a84e6" stroke-width="1.5" fill="none" stroke-linejoin="round"/>
<circle cx="73.9" cy="1297.9" r="2.85" fill="#1A85FF"/>
<circle cx="131.57" cy="1263.7" r="2.85" fill="#1A85FF"/>
<circle cx="189.24" cy="1285.3" r="2.85" fill="#1A85FF"/>
<circle cx="246.91" cy="1287.4" r="2.85" fill="#1A85FF"/>
<circle cx="304.58" cy="1256.4" r="2.85" fill="#1A85FF"/>
<circle cx="362.25" cy="1293.2" r="2.85" fill="#1A85FF"/>
<circle cx="419.92" cy="1303.4" r="2.85" fill="#1A85FF"/>
<circle cx="477.59" cy="1304.4" r="2.85" fill="#1A85FF"/>
<circle cx="535.26" cy="1271.7" r="2.85" fill="#1A85FF"/>
<circle cx="592.93" cy="1266.3" r="2.85" fill="#1A85FF"/>
<circle cx="650.6" cy="1252" r="2.85" fill="#1A85FF"/>
<path d="M91.1 1278.3V1342.3M88.3 1278.3H93.9M88.3 1342.3H93.9" stroke="#c6306c" stroke-width="1.2" fill="none"/>
<path d="M148.77 1165.5V1216.6M145.97 1165.5H151.57M145.97 1216.6H151.57" stroke="#c6306c" stroke-width="1.2" fill="none"/>
<path d="M206.44 1165.5V1223.6M203.64 1165.5H209.24M203.64 1223.6H209.24" stroke="#c6306c" stroke-width="1.2" fill="none"/>
<path d="M264.11 1198.5V1249.3M261.31 1198.5H266.91M261.31 1249.3H266.91" stroke="#c6306c" stroke-width="1.2" fill="none"/>
<path d="M321.78 1215.7V1291.8M318.98 1215.7H324.58M318.98 1291.8H324.58" stroke="#c6306c" stroke-width="1.2" fill="none"/>
<path d="M379.45 1189.4V1279.2M376.65 1189.4H382.25M376.65 1279.2H382.25" stroke="#c6306c" stroke-width="1.2" fill="none"/>
<path d="M437.12 1192.9V1264.6M434.32 1192.9H439.92M434.32 1264.6H439.92" stroke="#c6306c" stroke-width="1.2" fill="none"/>
<path d="M494.79 1178V1262M491.99 1178H497.59M491.99 1262H497.59" stroke="#c6306c" stroke-width="1.2" fill="none"/>
<path d="M552.46 1201.2V1272.4M549.66 1201.2H555.26M549.66 1272.4H555.26" stroke="#c6306c" stroke-width="1.2" fill="none"/>
<path d="M610.13 1190.8V1280.4M607.33 1190.8H612.93M607.33 1280.4H612.93" stroke="#c6306c" stroke-width="1.2" fill="none"/>
<path d="M667.8 1177.2V1291.1M665 1177.2H670.6M665 1291.1H670.6" stroke="#c6306c" stroke-width="1.2" fill="none"/>
<polyline points="91.1,1310.4 148.77,1191.8 206.44,1194.7 264.11,1223.9 321.78,1253.6 379.45,1235 437.12,1228.8 494.79,1219.4 552.46,1236.3 610.13,1235.5 667.8,1234.1" stroke="#c8175a" stroke-width="1.5" fill="none" stroke-linejoin="round"/>
<circle cx="91.1" cy="1310.4" r="2.85" fill="#D41159"/>
<circle cx="148.77" cy="1191.8" r="2.85" fill="#D41159"/>
<circle cx="206.44" cy="1194.7" r="2.85" fill="#D41159"/>
<circle cx="264.11" cy="1223.9" r="2.85" fill="#D41159"/>
<circle cx="321.78" cy="1253.6" r="2.85" fill="#D41159"/>
<circle cx="379.45" cy="1235" r="2.85" fill="#D41159"/>
<circle cx="437.12" cy="1228.8" r="2.85" fill="#D41159"/>
<circle cx="494.79" cy="1219.4" r="2.85" fill="#D41159"/>
<circle cx="552.46" cy="1236.3" r="2.85" fill="#D41159"/>
<circle cx="610.13" cy="1235.5" r="2.85" fill="#D41159"/>
<circle cx="667.8" cy="1234.1" r="2.85" fill="#D41159"/>
<text x="191.4" y="1152.2" text-anchor="middle" font-size="14.6" style="fill:#000;stroke:#000;stroke-width:0.3px">#</text>
<text x="420.8" y="1176.5" text-anchor="middle" font-size="14.6" style="fill:#000;stroke:#000;stroke-width:0.3px">#</text>
<text x="482.2" y="1174.9" text-anchor="middle" font-size="14.6" style="fill:#000;stroke:#000;stroke-width:0.3px">#</text>
<text x="545.5" y="1130.7" font-size="11.6">P = 0.028 (Group)</text>
<text x="545.5" y="1151.8" font-size="11.6">P = 0.605 (Day)</text>
<text x="545.5" y="1173.3" font-size="11.6">P = 0.495 (GroupxDay)</text>
<line x1="288.2" y1="1456.8" x2="320.4" y2="1456.8" stroke="#3a88e0" stroke-width="1.25"/>
<circle cx="304.3" cy="1456.8" r="2.85" fill="#1A85FF"/>
<text x="329.9" y="1461.9" font-size="14.4">Control</text>
<line x1="288.2" y1="1477.6" x2="320.4" y2="1477.6" stroke="#cc3c74" stroke-width="1.25"/>
<circle cx="304.3" cy="1477.6" r="2.85" fill="#D41159"/>
<text x="329.9" y="1482.7" font-size="14.4">Urine alkalinisation</text>
<line x1="33.71" y1="415.4" x2="630.49" y2="415.4" stroke="#111" stroke-width="1.38"/>
<line x1="33.71" y1="445.85" x2="630.49" y2="445.85" stroke="#111" stroke-width="1.38"/>
<line x1="33.71" y1="476.3" x2="630.49" y2="476.3" stroke="#111" stroke-width="1.38"/>
<line x1="33.71" y1="506.75" x2="630.49" y2="506.75" stroke="#111" stroke-width="1.38"/>
<line x1="34.4" y1="415.4" x2="34.4" y2="506.75" stroke="#111" stroke-width="1.38"/>
<line x1="151.2" y1="415.4" x2="151.2" y2="506.75" stroke="#111" stroke-width="1.38"/>
<line x1="194.2" y1="415.4" x2="194.2" y2="506.75" stroke="#111" stroke-width="1.38"/>
<line x1="237.2" y1="415.4" x2="237.2" y2="506.75" stroke="#111" stroke-width="1.38"/>
<line x1="281" y1="415.4" x2="281" y2="506.75" stroke="#111" stroke-width="1.38"/>
<line x1="322.4" y1="415.4" x2="322.4" y2="506.75" stroke="#111" stroke-width="1.38"/>
<line x1="364.1" y1="415.4" x2="364.1" y2="506.75" stroke="#111" stroke-width="1.38"/>
<line x1="409.5" y1="415.4" x2="409.5" y2="506.75" stroke="#111" stroke-width="1.38"/>
<line x1="456.7" y1="415.4" x2="456.7" y2="506.75" stroke="#111" stroke-width="1.38"/>
<line x1="501.7" y1="415.4" x2="501.7" y2="506.75" stroke="#111" stroke-width="1.38"/>
<line x1="544.3" y1="415.4" x2="544.3" y2="506.75" stroke="#111" stroke-width="1.38"/>
<line x1="587.2" y1="415.4" x2="587.2" y2="506.75" stroke="#111" stroke-width="1.38"/>
<line x1="629.8" y1="415.4" x2="629.8" y2="506.75" stroke="#111" stroke-width="1.38"/>
<text transform="translate(42.1,438) scale(1,1.06)" font-size="18.8" class="tb">Day</text>
<text transform="translate(172.7,438) scale(1,1.06)" text-anchor="middle" font-size="18.8" class="tb">0</text>
<text transform="translate(215.7,438) scale(1,1.06)" text-anchor="middle" font-size="18.8" class="tb">1</text>
<text transform="translate(259.1,438) scale(1,1.06)" text-anchor="middle" font-size="18.8" class="tb">2</text>
<text transform="translate(301.7,438) scale(1,1.06)" text-anchor="middle" font-size="18.8" class="tb">3</text>
<text transform="translate(343.25,438) scale(1,1.06)" text-anchor="middle" font-size="18.8" class="tb">4</text>
<text transform="translate(386.8,438) scale(1,1.06)" text-anchor="middle" font-size="18.8" class="tb">5</text>
<text transform="translate(433.1,438) scale(1,1.06)" text-anchor="middle" font-size="18.8" class="tb">6</text>
<text transform="translate(479.2,438) scale(1,1.06)" text-anchor="middle" font-size="18.8" class="tb">7</text>
<text transform="translate(523,438) scale(1,1.06)" text-anchor="middle" font-size="18.8" class="tb">8</text>
<text transform="translate(565.75,438) scale(1,1.06)" text-anchor="middle" font-size="18.8" class="tb">9</text>
<text transform="translate(608.5,438) scale(1,1.06)" text-anchor="middle" font-size="18.8" class="tb">10</text>
<text transform="translate(42.1,468.45) scale(1,1.06)" font-size="18.8" class="tb">Intervention</text>
<text transform="translate(172.7,468.45) scale(1,1.06)" text-anchor="middle" font-size="18.8" class="tb">8</text>
<text transform="translate(215.7,468.45) scale(1,1.06)" text-anchor="middle" font-size="18.8" class="tb">8</text>
<text transform="translate(259.1,468.45) scale(1,1.06)" text-anchor="middle" font-size="18.8" class="tb">8</text>
<text transform="translate(301.7,468.45) scale(1,1.06)" text-anchor="middle" font-size="18.8" class="tb">7</text>
<text transform="translate(343.25,468.45) scale(1,1.06)" text-anchor="middle" font-size="18.8" class="tb">6</text>
<text transform="translate(386.8,468.45) scale(1,1.06)" text-anchor="middle" font-size="18.8" class="tb">5</text>
<text transform="translate(433.1,468.45) scale(1,1.06)" text-anchor="middle" font-size="18.8" class="tb">5</text>
<text transform="translate(479.2,468.45) scale(1,1.06)" text-anchor="middle" font-size="18.8" class="tb">5</text>
<text transform="translate(523,468.45) scale(1,1.06)" text-anchor="middle" font-size="18.8" class="tb">5</text>
<text transform="translate(565.75,468.45) scale(1,1.06)" text-anchor="middle" font-size="18.8" class="tb">5</text>
<text transform="translate(608.5,468.45) scale(1,1.06)" text-anchor="middle" font-size="18.8" class="tb">4</text>
<text transform="translate(42.1,498.9) scale(1,1.06)" font-size="18.8" class="tb">Control</text>
<text transform="translate(172.7,498.9) scale(1,1.06)" text-anchor="middle" font-size="18.8" class="tb">8</text>
<text transform="translate(215.7,498.9) scale(1,1.06)" text-anchor="middle" font-size="18.8" class="tb">8</text>
<text transform="translate(259.1,498.9) scale(1,1.06)" text-anchor="middle" font-size="18.8" class="tb">8</text>
<text transform="translate(301.7,498.9) scale(1,1.06)" text-anchor="middle" font-size="18.8" class="tb">7</text>
<text transform="translate(343.25,498.9) scale(1,1.06)" text-anchor="middle" font-size="18.8" class="tb">7</text>
<text transform="translate(386.8,498.9) scale(1,1.06)" text-anchor="middle" font-size="18.8" class="tb">6</text>
<text transform="translate(433.1,498.9) scale(1,1.06)" text-anchor="middle" font-size="18.8" class="tb">5</text>
<text transform="translate(479.2,498.9) scale(1,1.06)" text-anchor="middle" font-size="18.8" class="tb">5</text>
<text transform="translate(523,498.9) scale(1,1.06)" text-anchor="middle" font-size="18.8" class="tb">4</text>
<text transform="translate(565.75,498.9) scale(1,1.06)" text-anchor="middle" font-size="18.8" class="tb">4</text>
<text transform="translate(608.5,498.9) scale(1,1.06)" text-anchor="middle" font-size="18.8" class="tb">4</text>
<line x1="36.29" y1="970.4" x2="652.16" y2="970.4" stroke="#111" stroke-width="1.4241599999999999"/>
<line x1="36.29" y1="1001.82" x2="652.16" y2="1001.82" stroke="#111" stroke-width="1.4241599999999999"/>
<line x1="36.29" y1="1033.25" x2="652.16" y2="1033.25" stroke="#111" stroke-width="1.4241599999999999"/>
<line x1="36.29" y1="1064.67" x2="652.16" y2="1064.67" stroke="#111" stroke-width="1.4241599999999999"/>
<line x1="37" y1="970.4" x2="37" y2="1064.67" stroke="#111" stroke-width="1.4241599999999999"/>
<line x1="157.54" y1="970.4" x2="157.54" y2="1064.67" stroke="#111" stroke-width="1.4241599999999999"/>
<line x1="201.91" y1="970.4" x2="201.91" y2="1064.67" stroke="#111" stroke-width="1.4241599999999999"/>
<line x1="246.29" y1="970.4" x2="246.29" y2="1064.67" stroke="#111" stroke-width="1.4241599999999999"/>
<line x1="291.49" y1="970.4" x2="291.49" y2="1064.67" stroke="#111" stroke-width="1.4241599999999999"/>
<line x1="334.22" y1="970.4" x2="334.22" y2="1064.67" stroke="#111" stroke-width="1.4241599999999999"/>
<line x1="377.25" y1="970.4" x2="377.25" y2="1064.67" stroke="#111" stroke-width="1.4241599999999999"/>
<line x1="424.1" y1="970.4" x2="424.1" y2="1064.67" stroke="#111" stroke-width="1.4241599999999999"/>
<line x1="472.81" y1="970.4" x2="472.81" y2="1064.67" stroke="#111" stroke-width="1.4241599999999999"/>
<line x1="519.25" y1="970.4" x2="519.25" y2="1064.67" stroke="#111" stroke-width="1.4241599999999999"/>
<line x1="563.22" y1="970.4" x2="563.22" y2="1064.67" stroke="#111" stroke-width="1.4241599999999999"/>
<line x1="607.49" y1="970.4" x2="607.49" y2="1064.67" stroke="#111" stroke-width="1.4241599999999999"/>
<line x1="651.45" y1="970.4" x2="651.45" y2="1064.67" stroke="#111" stroke-width="1.4241599999999999"/>
<text transform="translate(44.95,993.72) scale(1,1.06)" font-size="19.4" class="tb">Day</text>
<text transform="translate(179.73,993.72) scale(1,1.06)" text-anchor="middle" font-size="19.4" class="tb">0</text>
<text transform="translate(224.1,993.72) scale(1,1.06)" text-anchor="middle" font-size="19.4" class="tb">1</text>
<text transform="translate(268.89,993.72) scale(1,1.06)" text-anchor="middle" font-size="19.4" class="tb">2</text>
<text transform="translate(312.85,993.72) scale(1,1.06)" text-anchor="middle" font-size="19.4" class="tb">3</text>
<text transform="translate(355.73,993.72) scale(1,1.06)" text-anchor="middle" font-size="19.4" class="tb">4</text>
<text transform="translate(400.68,993.72) scale(1,1.06)" text-anchor="middle" font-size="19.4" class="tb">5</text>
<text transform="translate(448.46,993.72) scale(1,1.06)" text-anchor="middle" font-size="19.4" class="tb">6</text>
<text transform="translate(496.03,993.72) scale(1,1.06)" text-anchor="middle" font-size="19.4" class="tb">7</text>
<text transform="translate(541.24,993.72) scale(1,1.06)" text-anchor="middle" font-size="19.4" class="tb">8</text>
<text transform="translate(585.35,993.72) scale(1,1.06)" text-anchor="middle" font-size="19.4" class="tb">9</text>
<text transform="translate(629.47,993.72) scale(1,1.06)" text-anchor="middle" font-size="19.4" class="tb">10</text>
<text transform="translate(44.95,1025.15) scale(1,1.06)" font-size="19.4" class="tb">Intervention</text>
<text transform="translate(179.73,1025.15) scale(1,1.06)" text-anchor="middle" font-size="19.4" class="tb">8</text>
<text transform="translate(224.1,1025.15) scale(1,1.06)" text-anchor="middle" font-size="19.4" class="tb">8</text>
<text transform="translate(268.89,1025.15) scale(1,1.06)" text-anchor="middle" font-size="19.4" class="tb">8</text>
<text transform="translate(312.85,1025.15) scale(1,1.06)" text-anchor="middle" font-size="19.4" class="tb">8</text>
<text transform="translate(355.73,1025.15) scale(1,1.06)" text-anchor="middle" font-size="19.4" class="tb">7</text>
<text transform="translate(400.68,1025.15) scale(1,1.06)" text-anchor="middle" font-size="19.4" class="tb">7</text>
<text transform="translate(448.46,1025.15) scale(1,1.06)" text-anchor="middle" font-size="19.4" class="tb">7</text>
<text transform="translate(496.03,1025.15) scale(1,1.06)" text-anchor="middle" font-size="19.4" class="tb">7</text>
<text transform="translate(541.24,1025.15) scale(1,1.06)" text-anchor="middle" font-size="19.4" class="tb">7</text>
<text transform="translate(585.35,1025.15) scale(1,1.06)" text-anchor="middle" font-size="19.4" class="tb">7</text>
<text transform="translate(629.47,1025.15) scale(1,1.06)" text-anchor="middle" font-size="19.4" class="tb">6</text>
<text transform="translate(44.95,1056.57) scale(1,1.06)" font-size="19.4" class="tb">Control</text>
<text transform="translate(179.73,1056.57) scale(1,1.06)" text-anchor="middle" font-size="19.4" class="tb">8</text>
<text transform="translate(224.1,1056.57) scale(1,1.06)" text-anchor="middle" font-size="19.4" class="tb">8</text>
<text transform="translate(268.89,1056.57) scale(1,1.06)" text-anchor="middle" font-size="19.4" class="tb">8</text>
<text transform="translate(312.85,1056.57) scale(1,1.06)" text-anchor="middle" font-size="19.4" class="tb">8</text>
<text transform="translate(355.73,1056.57) scale(1,1.06)" text-anchor="middle" font-size="19.4" class="tb">7</text>
<text transform="translate(400.68,1056.57) scale(1,1.06)" text-anchor="middle" font-size="19.4" class="tb">7</text>
<text transform="translate(448.46,1056.57) scale(1,1.06)" text-anchor="middle" font-size="19.4" class="tb">7</text>
<text transform="translate(496.03,1056.57) scale(1,1.06)" text-anchor="middle" font-size="19.4" class="tb">7</text>
<text transform="translate(541.24,1056.57) scale(1,1.06)" text-anchor="middle" font-size="19.4" class="tb">6</text>
<text transform="translate(585.35,1056.57) scale(1,1.06)" text-anchor="middle" font-size="19.4" class="tb">6</text>
<text transform="translate(629.47,1056.57) scale(1,1.06)" text-anchor="middle" font-size="19.4" class="tb">6</text>
<line x1="33.06" y1="1533.6" x2="676.86" y2="1533.6" stroke="#111" stroke-width="1.4887439999999998"/>
<line x1="33.06" y1="1566.45" x2="676.86" y2="1566.45" stroke="#111" stroke-width="1.4887439999999998"/>
<line x1="33.06" y1="1599.3" x2="676.86" y2="1599.3" stroke="#111" stroke-width="1.4887439999999998"/>
<line x1="33.06" y1="1632.15" x2="676.86" y2="1632.15" stroke="#111" stroke-width="1.4887439999999998"/>
<line x1="33.8" y1="1533.6" x2="33.8" y2="1632.15" stroke="#111" stroke-width="1.4887439999999998"/>
<line x1="159.8" y1="1533.6" x2="159.8" y2="1632.15" stroke="#111" stroke-width="1.4887439999999998"/>
<line x1="206.19" y1="1533.6" x2="206.19" y2="1632.15" stroke="#111" stroke-width="1.4887439999999998"/>
<line x1="252.58" y1="1533.6" x2="252.58" y2="1632.15" stroke="#111" stroke-width="1.4887439999999998"/>
<line x1="299.83" y1="1533.6" x2="299.83" y2="1632.15" stroke="#111" stroke-width="1.4887439999999998"/>
<line x1="344.49" y1="1533.6" x2="344.49" y2="1632.15" stroke="#111" stroke-width="1.4887439999999998"/>
<line x1="389.48" y1="1533.6" x2="389.48" y2="1632.15" stroke="#111" stroke-width="1.4887439999999998"/>
<line x1="438.46" y1="1533.6" x2="438.46" y2="1632.15" stroke="#111" stroke-width="1.4887439999999998"/>
<line x1="489.38" y1="1533.6" x2="489.38" y2="1632.15" stroke="#111" stroke-width="1.4887439999999998"/>
<line x1="537.92" y1="1533.6" x2="537.92" y2="1632.15" stroke="#111" stroke-width="1.4887439999999998"/>
<line x1="583.88" y1="1533.6" x2="583.88" y2="1632.15" stroke="#111" stroke-width="1.4887439999999998"/>
<line x1="630.16" y1="1533.6" x2="630.16" y2="1632.15" stroke="#111" stroke-width="1.4887439999999998"/>
<line x1="676.12" y1="1533.6" x2="676.12" y2="1632.15" stroke="#111" stroke-width="1.4887439999999998"/>
<text transform="translate(42.11,1557.98) scale(1,1.06)" font-size="20.28" class="tb">Day</text>
<text transform="translate(183,1557.98) scale(1,1.06)" text-anchor="middle" font-size="20.28" class="tb">0</text>
<text transform="translate(229.39,1557.98) scale(1,1.06)" text-anchor="middle" font-size="20.28" class="tb">1</text>
<text transform="translate(276.21,1557.98) scale(1,1.06)" text-anchor="middle" font-size="20.28" class="tb">2</text>
<text transform="translate(322.16,1557.98) scale(1,1.06)" text-anchor="middle" font-size="20.28" class="tb">3</text>
<text transform="translate(366.99,1557.98) scale(1,1.06)" text-anchor="middle" font-size="20.28" class="tb">4</text>
<text transform="translate(413.97,1557.98) scale(1,1.06)" text-anchor="middle" font-size="20.28" class="tb">5</text>
<text transform="translate(463.92,1557.98) scale(1,1.06)" text-anchor="middle" font-size="20.28" class="tb">6</text>
<text transform="translate(513.65,1557.98) scale(1,1.06)" text-anchor="middle" font-size="20.28" class="tb">7</text>
<text transform="translate(560.9,1557.98) scale(1,1.06)" text-anchor="middle" font-size="20.28" class="tb">8</text>
<text transform="translate(607.02,1557.98) scale(1,1.06)" text-anchor="middle" font-size="20.28" class="tb">9</text>
<text transform="translate(653.14,1557.98) scale(1,1.06)" text-anchor="middle" font-size="20.28" class="tb">10</text>
<text transform="translate(42.11,1590.83) scale(1,1.06)" font-size="20.28" class="tb">Intervention</text>
<text transform="translate(183,1590.83) scale(1,1.06)" text-anchor="middle" font-size="20.28" class="tb">8</text>
<text transform="translate(229.39,1590.83) scale(1,1.06)" text-anchor="middle" font-size="20.28" class="tb">8</text>
<text transform="translate(276.21,1590.83) scale(1,1.06)" text-anchor="middle" font-size="20.28" class="tb">8</text>
<text transform="translate(322.16,1590.83) scale(1,1.06)" text-anchor="middle" font-size="20.28" class="tb">8</text>
<text transform="translate(366.99,1590.83) scale(1,1.06)" text-anchor="middle" font-size="20.28" class="tb">7</text>
<text transform="translate(413.97,1590.83) scale(1,1.06)" text-anchor="middle" font-size="20.28" class="tb">7</text>
<text transform="translate(463.92,1590.83) scale(1,1.06)" text-anchor="middle" font-size="20.28" class="tb">7</text>
<text transform="translate(513.65,1590.83) scale(1,1.06)" text-anchor="middle" font-size="20.28" class="tb">7</text>
<text transform="translate(560.9,1590.83) scale(1,1.06)" text-anchor="middle" font-size="20.28" class="tb">7</text>
<text transform="translate(607.02,1590.83) scale(1,1.06)" text-anchor="middle" font-size="20.28" class="tb">7</text>
<text transform="translate(653.14,1590.83) scale(1,1.06)" text-anchor="middle" font-size="20.28" class="tb">6</text>
<text transform="translate(42.11,1623.68) scale(1,1.06)" font-size="20.28" class="tb">Control</text>
<text transform="translate(183,1623.68) scale(1,1.06)" text-anchor="middle" font-size="20.28" class="tb">8</text>
<text transform="translate(229.39,1623.68) scale(1,1.06)" text-anchor="middle" font-size="20.28" class="tb">8</text>
<text transform="translate(276.21,1623.68) scale(1,1.06)" text-anchor="middle" font-size="20.28" class="tb">8</text>
<text transform="translate(322.16,1623.68) scale(1,1.06)" text-anchor="middle" font-size="20.28" class="tb">8</text>
<text transform="translate(366.99,1623.68) scale(1,1.06)" text-anchor="middle" font-size="20.28" class="tb">7</text>
<text transform="translate(413.97,1623.68) scale(1,1.06)" text-anchor="middle" font-size="20.28" class="tb">7</text>
<text transform="translate(463.92,1623.68) scale(1,1.06)" text-anchor="middle" font-size="20.28" class="tb">7</text>
<text transform="translate(513.65,1623.68) scale(1,1.06)" text-anchor="middle" font-size="20.28" class="tb">7</text>
<text transform="translate(560.9,1623.68) scale(1,1.06)" text-anchor="middle" font-size="20.28" class="tb">6</text>
<text transform="translate(607.02,1623.68) scale(1,1.06)" text-anchor="middle" font-size="20.28" class="tb">6</text>
<text transform="translate(653.14,1623.68) scale(1,1.06)" text-anchor="middle" font-size="20.28" class="tb">6</text>
</svg>
</body></html>
